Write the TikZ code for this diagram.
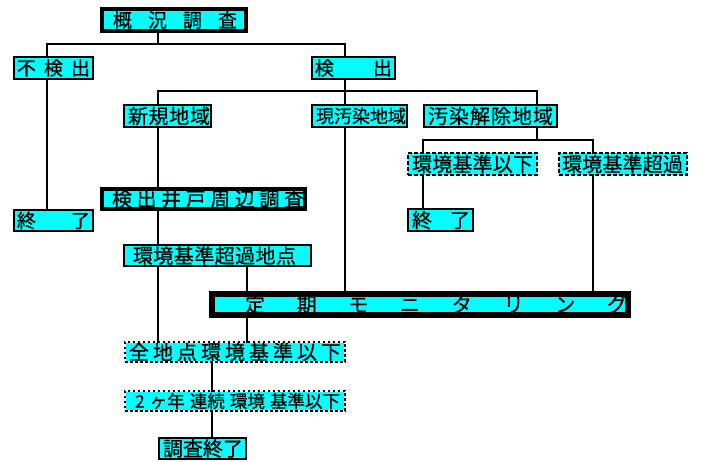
\documentclass[tikz,border=0pt]{standalone}
\usepackage{fontspec}
\setmainfont{Noto Sans CJK JP}[FakeBold=0.6]
\definecolor{cyanfill}{RGB}{0,255,255}
\newcommand{\bx}[9]{%
  \pgfmathsetmacro\myw{#5-#3}\pgfmathsetmacro\myh{#6-#4}%
  \pgfmathsetmacro\myl{#7-#3}\pgfmathsetmacro\myr{#5-#8}%
  \node[#1, minimum width=\myw pt, minimum height=\myh pt] (#2) at ({(#3+#5)/2},{(#4+#6)/2})
    {\makebox[\myw pt][s]{\hspace*{\myl pt}#9\hspace*{\myr pt}}};}
\begin{document}
\begin{tikzpicture}[x=1pt,y=-1pt,
  box/.style={draw, fill=cyanfill, line width=2.8pt, inner sep=0pt, outer sep=0pt,
    font=\fontsize{20}{20}\selectfont},
  thickbox/.style={box, line width=4.8pt},
  dashbox/.style={box, line width=2.2pt, dash pattern=on 4pt off 2pt},
  dotbox/.style={box, draw=white, line width=2.8pt,
    postaction={draw=black, line width=2.8pt, dash pattern=on 2.5pt off 2.5pt}},
  conn/.style={line width=2.8pt, line cap=rect}]
\useasboundingbox (0,0) rectangle (702,462);
% boxes
\bx{thickbox, font=\fontsize{19}{19}\selectfont}{gaikyo}{102}{9}{246}{31}{113}{237}{概\hfill 況\hfill 調\hfill 査}
\bx{box, font=\fontsize{19}{19}\selectfont}{fu}{14}{57}{93}{79}{17}{90}{不\hfill 検\hfill 出}
\bx{box, font=\fontsize{19}{19}\selectfont}{ken}{312}{57}{395}{79}{315}{392}{検\hfill 出}
\bx{box}{shinki}{124}{105}{211}{127}{128}{210}{新\hfill 規\hfill 地\hfill 域}
\bx{box, font=\fontsize{18}{18}\selectfont}{genosen}{312}{105}{407}{127}{316}{405}{現\hfill 汚\hfill 染\hfill 地\hfill 域}
\bx{box}{kaijo}{424}{105}{557}{127}{428}{553}{汚\hfill 染\hfill 解\hfill 除\hfill 地\hfill 域}
\bx{dashbox}{ika}{408}{153}{537}{175}{412}{533}{環\hfill 境\hfill 基\hfill 準\hfill 以\hfill 下}
\bx{dashbox}{chokaR}{559}{153}{687}{175}{562}{683}{環\hfill 境\hfill 基\hfill 準\hfill 超\hfill 過}
\bx{thickbox}{ido}{102}{189}{305}{209}{112}{304}{検\hfill 出\hfill 井\hfill 戸\hfill 周\hfill 辺\hfill 調\hfill 査}
\bx{box, font=\fontsize{19}{19}\selectfont}{shuryoL}{14}{210}{93}{231}{17}{90}{終\hfill 了}
\bx{box}{shuryoR}{408}{209}{473}{231}{412}{470}{終\hfill 了}
\bx{box}{choka}{124}{245}{311}{266}{133}{296}{環\hfill 境\hfill 基\hfill 準\hfill 超\hfill 過\hfill 地\hfill 点}
\bx{box, line width=5.2pt}{teiki}{212}{294}{628}{315}{245}{627}{定\hfill 期\hfill モ\hfill ニ\hfill タ\hfill リ\hfill ン\hfill グ}
\bx{dotbox}{zen}{125}{342}{345}{362}{129}{341}{全\hfill 地\hfill 点\hfill 環\hfill 境\hfill 基\hfill 準\hfill 以\hfill 下}
\bx{dotbox, font=\fontsize{17.5}{17.5}\selectfont}{nenren}{125}{391}{345}{411}{135}{340}{2\hfill ヶ年\hfill 連続\hfill 環境\hfill 基準以下}
\bx{box}{chosa}{159}{438}{246}{459}{163}{243}{調\hfill 査\hfill 終\hfill 了}
% junction coordinates
\coordinate (t1) at (158,44);
\coordinate (t1L) at (47,44);
\coordinate (t1R) at (345,44);
\coordinate (t2) at (345,91);
\coordinate (t2L) at (158,91);
\coordinate (t2R) at (537,91);
\coordinate (t3) at (537,140);
\coordinate (t3L) at (423,140);
\coordinate (t3R) at (593,140);
\coordinate (v247) at (247,0);
\coordinate (v212) at (212,0);
% connectors
\draw[conn] (gaikyo.south -| t1) -- (t1);
\draw[conn] (fu.north -| t1L) -- (t1L) -- (t1R) -- (ken.north -| t1R);
\draw[conn] (fu.south -| t1L) -- (shuryoL.north -| t1L);
\draw[conn] (ken.south -| t2) -- (t2);
\draw[conn] (shinki.north -| t2L) -- (t2L) -- (t2R) -- (kaijo.north -| t2R);
\draw[conn] (t2) -- (genosen.north -| t2);
\draw[conn] (shinki.south -| t2L) -- (ido.north -| t2L);
\draw[conn] (ido.south -| t2L) -- (choka.north -| t2L);
\draw[conn] (choka.south -| t2L) -- (zen.north -| t2L);
\draw[conn] (choka.south -| v247) -- (teiki.north -| v247);
\draw[conn] (teiki.south -| v247) -- (zen.north -| v247);
\draw[conn] (genosen.south -| t2) -- (teiki.north -| t2);
\draw[conn] (kaijo.south -| t3) -- (t3);
\draw[conn] (ika.north -| t3L) -- (t3L) -- (t3R) -- (chokaR.north -| t3R);
\draw[conn] (ika.south -| t3L) -- (shuryoR.north -| t3L);
\draw[conn] (chokaR.south -| t3R) -- (teiki.north -| t3R);
\draw[conn] (zen.south -| v212) -- (nenren.north -| v212);
\draw[conn] (nenren.south -| v212) -- (chosa.north -| v212);
\end{tikzpicture}
\end{document}
